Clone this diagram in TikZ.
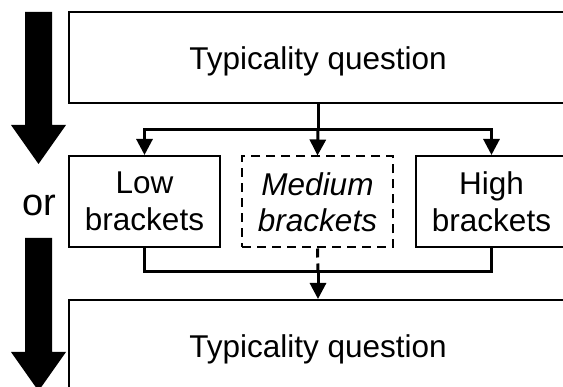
\documentclass[tikz,border=0pt]{standalone}
\usepackage{fontspec}
\setmainfont{Liberation Sans}
\usetikzlibrary{arrows.meta}
\tikzset{
  bigbox/.style={draw, line width=2pt, inner sep=0pt, minimum width=498pt,
    text height=58pt, text depth=33pt, font=\fontsize{31.5}{36.5}\selectfont},
  bracketbox/.style={draw, line width=2pt, inner sep=0pt, minimum width=151pt,
    minimum height=91pt, align=center, font=\fontsize{31.5}{36.5}\selectfont},
  dashbox/.style={bracketbox, dash pattern=on 9pt off 6pt},
  link/.style={line width=3pt},
  tiplink/.style={link, -{Triangle[length=16pt,width=16pt]}},
  flowarrow/.style={fill=black, draw=none}
}
\begin{document}
\begin{tikzpicture}[x=1pt,y=-1pt]
  \useasboundingbox (0,0) rectangle (563,387);
  \clip (0,0) rectangle (563,387);
  \fill[white] (0,0) rectangle (563,387);

  % thick downward arrows along the left side
  \fill[flowarrow] (25,12) -- (52,12) -- (52,125) -- (66,125) -- (38.5,164)
    -- (11,125) -- (25,125) -- cycle;
  \fill[flowarrow] (25,238) -- (52,238) -- (52,352) -- (66,352) -- (38.5,391)
    -- (11,352) -- (25,352) -- cycle;
  \node[font=\fontsize{38}{44}\selectfont, inner sep=0pt] (or) at (39,205) {or};

  % boxes
  \node[bigbox] (tq1) at (318,57.5) {Typicality question};
  \node[bracketbox] (low) at (144.5,201.5) {Low\\brackets};
  \node[dashbox] (med) at (317.5,202) {\itshape Medium\\\itshape brackets};
  \node[bracketbox] (high) at (491.5,201.5) {High\\brackets};
  \node[bigbox] (tq2) at (318,345.5) {Typicality question};

  % split after the first question
  \coordinate (split) at (318,129.5);
  \draw[link] (tq1.south) -- (split);
  \draw[tiplink] (split) -| (low.north);
  \draw[tiplink] (split) -| (high.north);
  \draw[tiplink] (split) -- (med.north);

  % merge before the second question
  \coordinate (merge) at (318,272);
  \draw[link] (low.south) |- (merge);
  \draw[link] (high.south) |- (merge);
  \draw[link, dash pattern=on 9pt off 6pt] (med.south) -- (merge);
  \draw[tiplink] (merge) -- (tq2.north);
\end{tikzpicture}
\end{document}
